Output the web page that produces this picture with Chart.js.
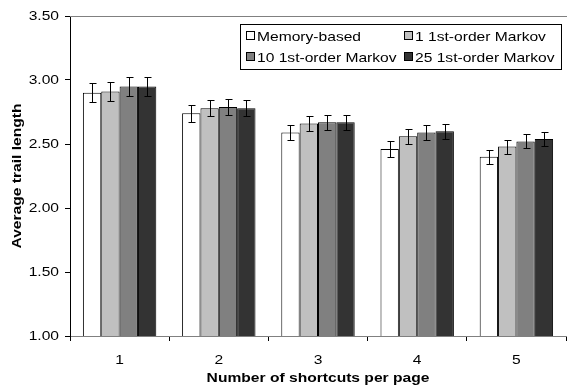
<!DOCTYPE html>
<html>
<head>
<meta charset="utf-8">
<script src="https://cdn.jsdelivr.net/npm/chart.js@4.4.0/dist/chart.umd.min.js"></script>
<style>
  html, body { margin: 0; padding: 0; background: #fff; }
  #wrap { width: 567px; height: 388px; }
</style>
</head>
<body>
<div id="wrap"><canvas id="chart" width="567" height="388"></canvas></div>
<script>
// data
const categories = ['1', '2', '3', '4', '5'];
const seriesNames = ['Memory-based', '1 1st-order Markov', '10 1st-order Markov', '25 1st-order Markov'];
const memoryBased = [2.90, 2.74, 2.59, 2.46, 2.40];
const markov1 = [2.91, 2.78, 2.66, 2.56, 2.48];
const markov10 = [2.95, 2.79, 2.67, 2.59, 2.52];
const markov25 = [2.95, 2.78, 2.67, 2.60, 2.54];
const errMemory = [0.075, 0.065, 0.06, 0.06, 0.055];
const errMarkov1 = [0.075, 0.065, 0.06, 0.06, 0.055];
const errMarkov10 = [0.075, 0.065, 0.06, 0.06, 0.055];
const errMarkov25 = [0.075, 0.065, 0.06, 0.06, 0.055];
const yTicks = [1.00, 1.50, 2.00, 2.50, 3.00, 3.50];

const fills = ['#ffffff', '#c0c0c0', '#808080', '#333333'];
const values = [memoryBased, markov1, markov10, markov25];
const errors = [errMemory, errMarkov1, errMarkov10, errMarkov25];

const FONT = 'Arial, "Liberation Sans", sans-serif';

// the original (Excel) text is drawn wide, so stretch every string along its baseline
const SX = 1.2;
const canvas = document.getElementById('chart');
const c2d = canvas.getContext('2d');
const rawFill = c2d.fillText.bind(c2d);
const rawMeasure = c2d.measureText.bind(c2d);
c2d.fillText = function (text, x, y, maxWidth) {
  this.save();
  this.translate(x, y);
  this.scale(SX, 1);
  rawFill(text, 0, 0);
  this.restore();
};
c2d.measureText = function (text) {
  const m = rawMeasure(text);
  return {
    width: m.width * SX,
    actualBoundingBoxAscent: m.actualBoundingBoxAscent,
    actualBoundingBoxDescent: m.actualBoundingBoxDescent,
    actualBoundingBoxLeft: m.actualBoundingBoxLeft * SX,
    actualBoundingBoxRight: m.actualBoundingBoxRight * SX
  };
};

// error bars drawn from the y scale
const errorBars = {
  id: 'errorBars',
  afterDatasetsDraw(chart) {
    const ctx = chart.ctx;
    const y = chart.scales.y;
    ctx.save();
    ctx.strokeStyle = '#000';
    ctx.lineWidth = 1;
    chart.data.datasets.forEach((ds, i) => {
      const meta = chart.getDatasetMeta(i);
      meta.data.forEach((bar, j) => {
        const v = ds.data[j], e = ds.errors[j];
        const x = Math.round(bar.x) + 0.5;
        const top = Math.round(y.getPixelForValue(v + e)) + 0.5;
        const bot = Math.round(y.getPixelForValue(v - e)) + 0.5;
        ctx.beginPath();
        ctx.moveTo(x, top); ctx.lineTo(x, bot);
        ctx.moveTo(x - 3, top); ctx.lineTo(x + 4, top);
        ctx.moveTo(x - 3, bot); ctx.lineTo(x + 4, bot);
        ctx.stroke();
      });
    });
    ctx.restore();
  }
};

// top frame line and boxed 2x2 legend
const frameAndLegend = {
  id: 'frameAndLegend',
  afterDraw(chart) {
    const ctx = chart.ctx;
    const a = chart.chartArea;
    const y = chart.scales.y;
    ctx.save();
    ctx.strokeStyle = '#808080';
    ctx.lineWidth = 1;
    const ty = Math.round(y.getPixelForValue(3.5)) + 0.5;
    ctx.beginPath();
    ctx.moveTo(a.left, ty); ctx.lineTo(567, ty);
    ctx.stroke();

    // legend box
    const bx = 240.5, by = 24.5, bw = 321, bh = 45;
    ctx.fillStyle = '#fff';
    ctx.fillRect(bx, by, bw, bh);
    ctx.strokeStyle = '#000';
    ctx.strokeRect(bx, by, bw, bh);
    ctx.font = '13px ' + FONT;
    ctx.textBaseline = 'middle';
    ctx.textAlign = 'left';
    const cols = [246, 404];
    const rows = [36, 57];
    chart.data.datasets.forEach((ds, i) => {
      const cx = cols[i % 2], cy = rows[Math.floor(i / 2)];
      ctx.fillStyle = ds.backgroundColor;
      ctx.fillRect(cx + 0.5, cy - 4.5, 8, 8);
      ctx.strokeStyle = '#000';
      ctx.strokeRect(cx + 0.5, cy - 4.5, 8, 8);
      ctx.fillStyle = '#000';
      ctx.fillText(ds.label, cx + 11, cy + 1);
    });
    ctx.restore();
  }
};

new Chart(canvas, {
  type: 'bar',
  data: {
    labels: categories,
    datasets: seriesNames.map((name, i) => ({
      label: name,
      data: values[i],
      errors: errors[i],
      backgroundColor: fills[i],
      borderColor: '#000',
      borderWidth: 1,
      borderSkipped: 'bottom',
      barPercentage: 1,
      categoryPercentage: 0.74
    }))
  },
  options: {
    responsive: false,
    animation: false,
    layout: { padding: { left: 10, right: 1, top: 16, bottom: 2 } },
    plugins: {
      legend: { display: false },
      tooltip: { enabled: false }
    },
    scales: {
      x: {
        grid: { offset: true, drawOnChartArea: false, tickLength: 5, color: '#000' },
        border: { color: '#808080' },
        ticks: { color: '#000', font: { family: FONT, size: 13 }, padding: 12 },
        title: { display: true, text: 'Number of shortcuts per page', color: '#000',
                 font: { family: FONT, size: 13, weight: 'bold' }, padding: 0 },
        afterFit(s) { s.height = 50; }
      },
      y: {
        min: 1, max: 3.5,
        afterBuildTicks(s) { s.ticks = yTicks.map(v => ({ value: v })); },
        grid: { drawOnChartArea: false, tickLength: 5, color: '#000' },
        border: { color: '#000' },
        ticks: { color: '#000', font: { family: FONT, size: 13 }, padding: 6,
                 callback: v => v.toFixed(2) },
        title: { display: true, text: 'Average trail length', color: '#000',
                 font: { family: FONT, size: 13, weight: 'bold' }, padding: 0 },
        afterFit(s) { s.width = 60; }
      }
    }
  },
  plugins: [errorBars, frameAndLegend]
});
</script>
</body>
</html>
